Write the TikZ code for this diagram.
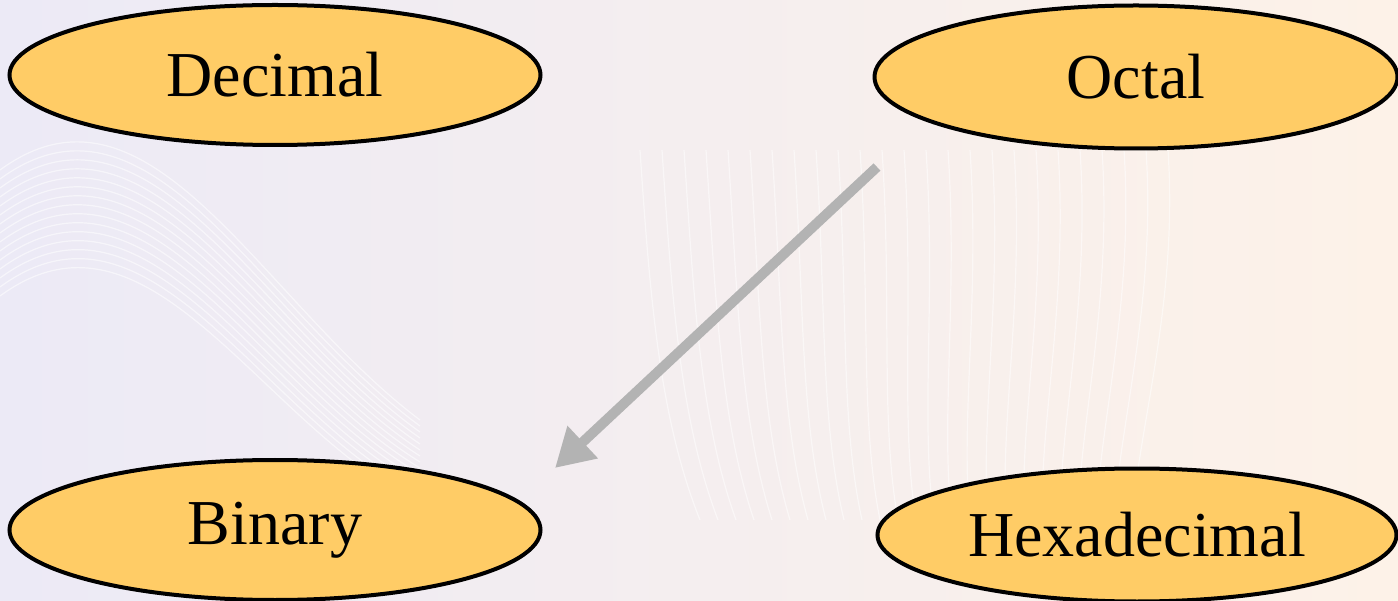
\documentclass[tikz,border=0pt]{standalone}
\usepackage{fontspec}
\setmainfont{Liberation Serif}
\usetikzlibrary{arrows.meta,shapes.geometric}
\definecolor{ovalfill}{RGB}{255,204,102}
\definecolor{arrowgray}{RGB}{179,179,179}
\definecolor{bgleft}{RGB}{236,234,246}
\definecolor{bgmid}{RGB}{252,240,247}
\definecolor{bgright}{RGB}{253,242,232}
\tikzset{
  base/.style={ellipse, draw=black, line width=4pt, fill=ovalfill,
    inner sep=0pt, font=\fontsize{64}{77}\selectfont},
  conv/.style={draw=arrowgray, line width=10pt,
    -{Triangle[length=38pt,width=42pt]}}
}
\begin{document}
\begin{tikzpicture}[x=1pt,y=-1pt]
\useasboundingbox (0,0) rectangle (1398,601);
\shade[left color=bgleft, middle color=bgmid, right color=bgright] (0,0) rectangle (1398,601);
\foreach \k in {0,...,14}{
  \draw[white, line width=1.2pt, opacity=0.55]
    (0,{170+9*\k}) .. controls (150,{60+9*\k}) and (260,{300+9*\k}) .. (420,{420+6*\k});
}
\foreach \k in {0,...,24}{
  \draw[white, line width=1.2pt, opacity=0.5]
    ({640+22*\k},150) .. controls ({650+22*\k},300) and ({660+20*\k},420) .. ({700+18*\k},520);
}
\node[base, minimum width=531pt, minimum height=140pt] (dec) at (275,75) {Decimal};
\node[base, minimum width=523pt, minimum height=143pt] (oct) at (1136,77) {Octal};
\node[base, minimum width=531pt, minimum height=140pt] (bin) at (275,530) {Binary};
\node[base, minimum width=519pt, minimum height=133pt] (hex) at (1137,535) {Hexadecimal};
\coordinate (from) at (877,167);
\coordinate (to) at (555,468);
\draw[conv] (from) -- (to);
\end{tikzpicture}
\end{document}
